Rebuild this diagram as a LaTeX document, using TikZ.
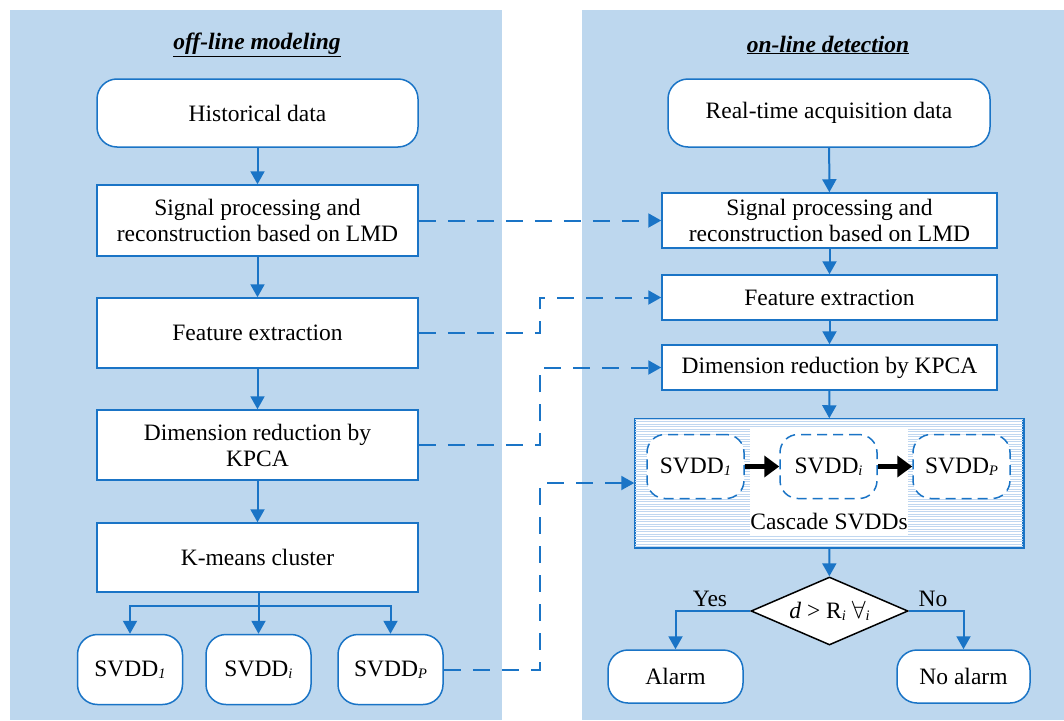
\documentclass[tikz,border=0pt]{standalone}
\usepackage{fontspec}
\setmainfont{Liberation Serif}
\usetikzlibrary{arrows.meta,shapes.geometric}
\definecolor{bg}{HTML}{BDD7EE}
\definecolor{ln}{HTML}{1A74C6}
\definecolor{hatch}{RGB}{192,215,240}
\newcommand{\sbs}[1]{\raisebox{-0.2ex}{\fontsize{14.5}{14.5}\selectfont\itshape #1}}
\begin{document}
\begin{tikzpicture}[x=1pt,y=-1pt,
  font=\fontsize{23.5}{26}\selectfont,
  rbox/.style={draw=ln, line width=1.5pt, fill=white, rounded corners=20pt, align=center, inner sep=0pt},
  sbox/.style={draw=ln, line width=1.5pt, fill=white, align=center, inner sep=0pt},
  dbox/.style={draw=ln, line width=1.5pt, fill=white, rounded corners=18pt, dash pattern=on 10pt off 6pt, inner sep=0pt, minimum width=97pt, minimum height=64pt},
  arr/.style={draw=ln, line width=2pt, -{Triangle[length=13pt,width=14pt]}},
  dsh/.style={arr, dash pattern=on 17pt off 12pt},
  blk/.style={line width=5pt, -{Triangle[length=15pt,width=21pt]}},
  lbl/.style={inner sep=0pt}]
\useasboundingbox (0,0) rectangle (1064,720);
\fill[bg] (10,10) rectangle (502,720);
\fill[bg] (582,10) rectangle (1064,720);
\node[lbl] (t1) at (257,45) {\underline{\textbf{\textit{off-line modeling}}}};
\node[lbl] (t2) at (828,45) {\underline{\textbf{\textit{on-line detection}}}};
% left column
\node[rbox, minimum width=321pt, minimum height=68pt] (hist) at (257.5,113) {Historical data};
\node[sbox, minimum width=321pt, minimum height=71pt] (sig) at (257.5,220.5) {Signal processing and\\reconstruction based on LMD};
\node[sbox, minimum width=321pt, minimum height=70pt] (feat) at (257.5,333) {Feature extraction};
\node[sbox, minimum width=321pt, minimum height=70pt] (dim) at (257.5,445) {Dimension reduction by\\KPCA};
\node[sbox, minimum width=321pt, minimum height=69pt] (km) at (257.5,557.5) {K-means cluster};
\node[rbox, minimum width=105pt, minimum height=70pt] (s1) at (130,669.5) {SVDD\sbs{1}};
\node[rbox, minimum width=105pt, minimum height=70pt] (si) at (258.5,669.5) {SVDD\sbs{i}};
\node[rbox, minimum width=105pt, minimum height=70pt] (sp) at (390.5,669.5) {SVDD\sbs{P}};
\draw[arr] (hist) -- (sig);
\draw[arr] (sig) -- (feat);
\draw[arr] (feat) -- (dim);
\draw[arr] (dim) -- (km);
\coordinate (br) at (258.5,606);
\draw[ln, line width=2pt] (km.south -| br) -- (br);
\draw[arr] (br) -| (s1.north);
\draw[arr] (br) -- (si.north);
\draw[arr] (br) -| (sp.north);
% right column
\node[rbox, minimum width=322pt, minimum height=68pt] (rt) at (829,113) {Real-time acquisition data};
\node[sbox, minimum width=335pt, minimum height=55pt] (rsig) at (829.5,220.5) {Signal processing and\\reconstruction based on LMD};
\node[sbox, minimum width=335pt, minimum height=45pt] (rfeat) at (829.5,297.5) {Feature extraction};
\node[sbox, minimum width=335pt, minimum height=45pt] (rdim) at (829.5,367.5) {Dimension reduction by KPCA};
\node[sbox, minimum width=388pt, minimum height=128pt, fill=white] (casc) at (829,483) {};
\begin{scope}
\clip (casc.north west) rectangle (casc.south east);
\foreach \yy in {419,421.5,...,548} {\draw[hatch, line width=0.8pt] (630,\yy) -- (1030,\yy);}
\end{scope}
\draw[ln, line width=1.5pt] (casc.north west) rectangle (casc.south east);
\fill[white] (750,428) rectangle (908,536);
\node[dbox] (c1) at (695.5,466.5) {SVDD\sbs{1}};
\node[dbox] (ci) at (828.5,466.5) {SVDD\sbs{i}};
\node[dbox] (cp) at (961.5,466.5) {SVDD\sbs{P}};
\node[lbl] (cl) at (829,522) {Cascade SVDDs};
\draw[blk] (c1.east) -- (ci.west);
\draw[blk] (ci.east) -- (cp.west);
\node[diamond, draw=black, line width=1.5pt, fill=white, aspect=2.3, inner sep=0pt, minimum width=157pt, minimum height=68pt] (dia) at (829.5,611) {\textit{d} > R\sbs{i} $\forall$\sbs{i}};
\node[rbox, minimum width=135pt, minimum height=53pt] (alarm) at (675.5,676.5) {Alarm};
\node[rbox, minimum width=133pt, minimum height=53pt] (noal) at (963.5,676.5) {No alarm};
\draw[arr] (rt) -- (rsig);
\draw[arr] (rsig) -- (rfeat);
\draw[arr] (rfeat) -- (rdim);
\draw[arr] (rdim) -- (casc);
\draw[arr] (casc) -- (dia);
\draw[arr] (dia.west) -| (alarm.north);
\draw[arr] (dia.east) -| (noal.north);
\node[lbl] (yes) at (710,599) {Yes};
\node[lbl] (no) at (933,599) {No};
% dashed links
\coordinate (j) at (540,0);
\draw[dsh] (sig.east) -- (rsig.west);
\draw[dsh] (feat.east) -- (feat.east -| j) |- (rfeat.west);
\draw[dsh] (dim.east) -- (dim.east -| j) |- (rdim.west);
\draw[dsh] (sp.east) -- (sp.east -| j) |- (casc.west);
\end{tikzpicture}
\end{document}
